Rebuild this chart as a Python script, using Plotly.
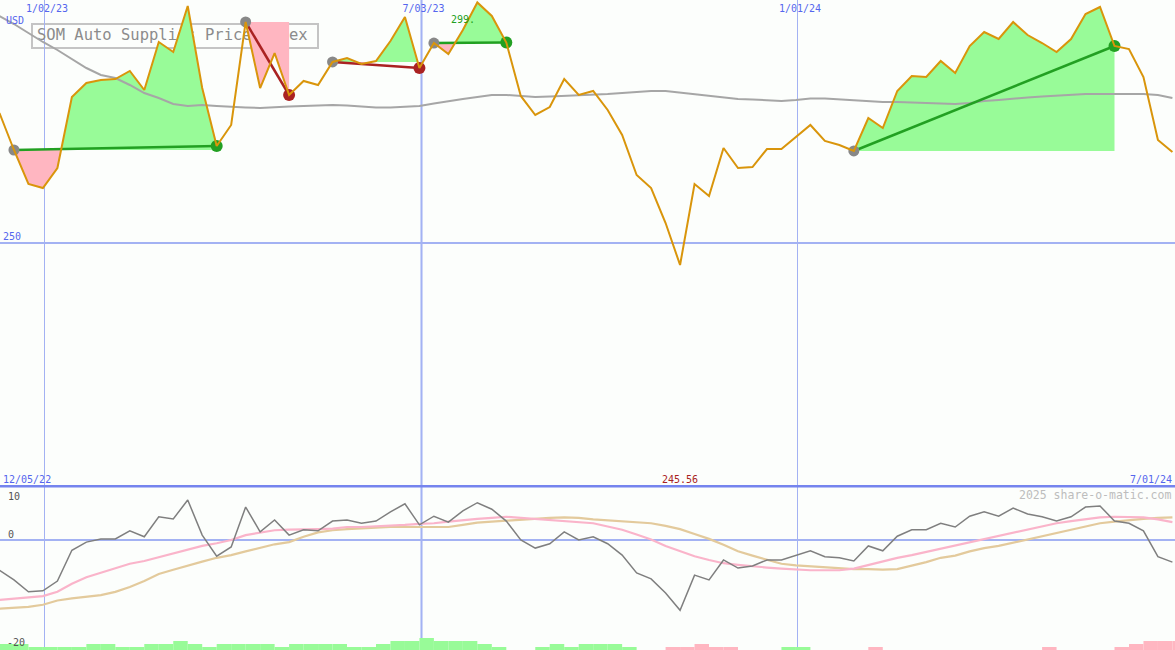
import pandas as pd
import plotly.graph_objects as go

# ---------------- data ----------------
dates = pd.date_range("2022-12-11", periods=82, freq="7D")

price = [276.26, 268.79, 261.92, 261.11, 265.15, 279.49, 282.32, 282.93, 283.13, 284.75,
         280.91, 290.61, 288.59, 297.88, 281.31, 269.60, 273.84, 294.65, 281.31, 288.38,
         279.90, 282.73, 281.92, 286.57, 287.37, 286.16, 286.77, 290.81, 295.66, 285.35,
         290.40, 288.18, 293.03, 298.60, 295.86, 290.50, 279.70, 275.86, 277.47, 283.13,
         279.90, 280.71, 276.87, 271.82, 263.74, 261.11, 254.04, 245.56, 261.92, 259.49,
         269.19, 265.15, 265.35, 268.99, 268.99, 271.41, 273.84, 270.61, 269.80, 268.59,
         275.25, 273.23, 280.71, 283.74, 283.54, 286.77, 284.34, 289.80, 292.63, 291.21,
         294.65, 292.02, 290.40, 288.59, 291.21, 296.26, 297.68, 289.80, 289.19, 283.54,
         270.81, 268.38]

moving_avg = [295.86, 294.24, 292.42, 290.61, 288.99, 287.17, 285.35, 283.94, 283.33, 281.92,
              280.30, 279.29, 278.08, 277.68, 277.88, 277.68, 277.47, 277.37, 277.27, 277.47,
              277.58, 277.68, 277.78, 277.88, 277.78, 277.58, 277.37, 277.37, 277.47, 277.68,
              278.18, 278.69, 279.09, 279.49, 279.90, 279.90, 279.70, 279.49, 279.60, 279.70,
              279.90, 279.90, 280.10, 280.30, 280.51, 280.71, 280.71, 280.40, 280.10, 279.70,
              279.39, 279.09, 278.99, 278.79, 278.69, 278.89, 279.19, 279.19, 278.99, 278.79,
              278.59, 278.48, 278.48, 278.38, 278.28, 278.18, 278.08, 278.28, 278.69, 278.89,
              279.19, 279.39, 279.60, 279.80, 279.90, 280.10, 280.10, 280.10, 280.10, 280.10,
              279.90, 279.29]

oscillator = [-5.6, -7.4, -9.6, -9.4, -7.6, -1.9, -0.4, 0.2, 0.2, 1.7,
              0.6, 4.3, 3.9, 7.4, 0.9, -3.0, -1.3, 6.1, 1.5, 3.7,
              0.9, 1.9, 1.7, 3.5, 3.7, 3.1, 3.5, 5.2, 6.7, 2.8,
              4.4, 3.3, 5.4, 6.9, 5.7, 3.5, 0.0, -1.5, -0.7, 1.5,
              0.0, 0.6, -0.7, -2.8, -6.1, -7.2, -9.8, -13.0, -6.5, -7.4,
              -3.7, -5.2, -4.8, -3.7, -3.7, -2.8, -2.0, -3.1, -3.3, -3.9,
              -1.1, -2.0, 0.7, 1.9, 1.9, 3.1, 2.4, 4.4, 5.2, 4.4,
              5.9, 4.8, 4.3, 3.5, 4.3, 6.1, 6.3, 3.5, 3.1, 1.7,
              -3.1, -4.1]

signal_fast = [-11.1, -10.9, -10.7, -10.4, -9.6, -8.1, -6.9, -6.1, -5.2, -4.4,
               -3.9, -3.2, -2.4, -1.7, -1.1, -0.6, 0.0, 0.9, 1.4, 1.8,
               1.9, 1.9, 2.0, 2.1, 2.4, 2.4, 2.5, 2.6, 2.8, 3.0,
               3.1, 3.4, 3.7, 3.9, 4.1, 4.3, 4.1, 3.9, 3.7, 3.5,
               3.3, 3.1, 2.5, 1.9, 1.0, 0.1, -1.1, -2.1, -3.0, -3.7,
               -4.3, -4.6, -4.9, -5.1, -5.3, -5.5, -5.6, -5.6, -5.6, -5.3,
               -4.6, -4.0, -3.3, -2.8, -2.2, -1.7, -1.0, -0.5, 0.2, 0.8,
               1.4, 1.9, 2.6, 3.1, 3.5, 3.9, 4.2, 4.3, 4.3, 4.2,
               3.8, 3.3]

signal_slow = [-12.7, -12.6, -12.4, -12.0, -11.2, -10.8, -10.5, -10.2, -9.6, -8.7,
               -7.6, -6.3, -5.5, -4.7, -4.0, -3.3, -2.8, -2.1, -1.4, -0.8,
               -0.4, 0.6, 1.4, 1.8, 2.0, 2.2, 2.3, 2.4, 2.4, 2.5,
               2.4, 2.4, 2.8, 3.2, 3.4, 3.6, 3.8, 4.0, 4.1, 4.2,
               4.1, 3.8, 3.6, 3.4, 3.3, 3.1, 2.6, 2.0, 1.1, 0.2,
               -0.9, -2.1, -2.9, -3.7, -4.4, -4.7, -4.9, -5.1, -5.3, -5.4,
               -5.4, -5.5, -5.4, -4.8, -4.1, -3.3, -2.9, -2.1, -1.5, -1.1,
               -0.5, 0.2, 0.7, 1.4, 1.9, 2.5, 3.1, 3.4, 3.7, 3.9,
               4.1, 4.2]

histogram = [2, 2, 1, 1, 1, 1, 2, 2, 1, 1,
             2, 2, 3, 2, 1, 2, 2, 2, 2, 1,
             2, 2, 2, 2, 1, 1, 2, 3, 3, 4,
             3, 3, 3, 2, 1, 0, 0, 1, 2, 1,
             2, 2, 2, 1, 0, 0, -1, -1, -2, -1,
             -1, 0, 0, 0, 1, 1, 0, 0, 0, 0,
             -1, 0, 0, 0, 0, 0, 0, 0, 0, 0,
             0, 0, -1, 0, 0, 0, 0, -1, -2, -3,
             -3, -3]

seg_start = [1, 17, 23, 30, 59]
seg_end = [15, 20, 29, 35, 77]

tick_dates = ["2023-01-02", "2023-07-03", "2024-01-01"]
tick_text = ["1/02/23", "7/03/23", "1/01/24"]
price_ticks = [250]
osc_labels = ["10", "0", "-20"]
title = "SOM Auto Supplies Price Index"
unit_label = "USD"
range_start_label = "12/05/22"
range_end_label = "7/01/24"
watermark = "2025 share-o-matic.com"

# ---------------- layout constants ----------------
W, H = 1175, 650
MAIN_PX = 487
X0 = pd.Timestamp("2022-12-11 06:00")
X1 = pd.Timestamp("2024-07-01 06:00")
Y_MAIN = [200.71, 299.09]
Y_OSC = [-20.37, 9.81]
MONO = "DejaVu Sans Mono"
BG = "#FCFEFC"
BLUE_TXT = "#5566EE"
GRID = "#A3B2F3"
ORANGE = "#D9950B"
GREEN_F = "#98FB98"
PINK_F = "#FFB6C1"
GREEN_L = "#22A022"
RED_L = "#AA2222"


def px_to_date(px):
    return X0 + (X1 - X0) * (px / W)


def px_to_price(py):
    return Y_MAIN[1] - (Y_MAIN[1] - Y_MAIN[0]) * py / MAIN_PX


def fill_polys(i0, i1):
    level = price[i0]
    t = [dates[i].value for i in range(i0, i1 + 1)]
    p = price[i0:i1 + 1]
    pt, pp = [t[0]], [p[0]]
    for j in range(1, len(t)):
        a, b = p[j - 1] - level, p[j] - level
        if a * b < 0:
            f = a / (a - b)
            pt.append(int(round(t[j - 1] + f * (t[j] - t[j - 1]))))
            pp.append(level)
        pt.append(t[j])
        pp.append(p[j])
    xs = list(pd.to_datetime(pt + [pt[-1], pt[0]]))
    up = [max(v, level) for v in pp] + [level, level]
    dn = [min(v, level) for v in pp] + [level, level]
    return xs, up, dn


fig = go.Figure()

# title text drawn first so the fills cover it
fig.add_trace(go.Scatter(x=[px_to_date(37)], y=[px_to_price(36)], mode="text",
                         text=[title], textposition="middle right",
                         textfont=dict(family=MONO, size=15.5, color="#8C8C8C"),
                         hoverinfo="skip", xaxis="x", yaxis="y"))

# histogram at the bottom of the oscillator panel
fig.add_trace(go.Bar(x=[d + pd.Timedelta(hours=84) for d in dates],
                     y=[abs(v) for v in histogram],
                     width=7 * 86400000,
                     marker=dict(color=[GREEN_F if v >= 0 else PINK_F for v in histogram],
                                 line=dict(width=0)),
                     hoverinfo="skip", xaxis="x", yaxis="y3"))

# trend fills
for s, e in zip(seg_start, seg_end):
    xs, up, dn = fill_polys(s, e)
    fig.add_trace(go.Scatter(x=xs, y=up, mode="lines", fill="toself", fillcolor=GREEN_F,
                             line=dict(width=0, color=GREEN_F), hoverinfo="skip",
                             xaxis="x", yaxis="y"))
    fig.add_trace(go.Scatter(x=xs, y=dn, mode="lines", fill="toself", fillcolor=PINK_F,
                             line=dict(width=0, color=PINK_F), hoverinfo="skip",
                             xaxis="x", yaxis="y"))

# moving average
fig.add_trace(go.Scatter(x=dates, y=moving_avg, mode="lines",
                         line=dict(color="#A6A6A6", width=2), hoverinfo="skip",
                         xaxis="x", yaxis="y"))

# trend lines
for s, e in zip(seg_start, seg_end):
    col = GREEN_L if price[e] >= price[s] else RED_L
    fig.add_trace(go.Scatter(x=[dates[s], dates[e]], y=[price[s], price[e]], mode="lines",
                             line=dict(color=col, width=2.5), hoverinfo="skip",
                             xaxis="x", yaxis="y"))

# dots
fig.add_trace(go.Scatter(x=[dates[s] for s in seg_start], y=[price[s] for s in seg_start],
                         mode="markers", marker=dict(size=11, color="#888888"),
                         hoverinfo="skip", xaxis="x", yaxis="y"))
fig.add_trace(go.Scatter(x=[dates[e] for e in seg_end], y=[price[e] for e in seg_end],
                         mode="markers",
                         marker=dict(size=12, color=[GREEN_L if price[e] >= price[s] else RED_L
                                                     for s, e in zip(seg_start, seg_end)]),
                         hoverinfo="skip", xaxis="x", yaxis="y"))

# price line
fig.add_trace(go.Scatter(x=dates, y=price, mode="lines",
                         line=dict(color=ORANGE, width=2), hoverinfo="skip",
                         xaxis="x", yaxis="y"))

# oscillator panel lines
fig.add_trace(go.Scatter(x=dates, y=signal_slow, mode="lines",
                         line=dict(color="#E3CA9C", width=2.2), hoverinfo="skip",
                         xaxis="x", yaxis="y2"))
fig.add_trace(go.Scatter(x=dates, y=signal_fast, mode="lines",
                         line=dict(color="#FAB4CA", width=2.2), hoverinfo="skip",
                         xaxis="x", yaxis="y2"))
fig.add_trace(go.Scatter(x=dates, y=oscillator, mode="lines",
                         line=dict(color="#7F7F7F", width=1.5), hoverinfo="skip",
                         xaxis="x", yaxis="y2"))


def note(text, px, py, xanchor, color, size=10):
    return dict(text=text, x=px / W, y=1 - py / H, xref="paper", yref="paper",
                xanchor=xanchor, yanchor="middle", showarrow=False,
                font=dict(family=MONO, size=size, color=color))


imax = max(range(len(price)), key=lambda i: price[i])
imin = min(range(len(price)), key=lambda i: price[i])

annotations = [
    note(unit_label, 4, 20, "left", BLUE_TXT),
    note(range_start_label, 1, 479, "left", BLUE_TXT),
    note(range_end_label, 1174, 479, "right", BLUE_TXT),
    note(osc_labels[0], 6, 496, "left", "#555555"),
    note(osc_labels[1], 6, 534, "left", "#555555"),
    note(osc_labels[2], 5, 642, "left", "#555555"),
    note(watermark, 1173, 495, "right", "#BDBDBD", size=11.5),
    dict(text=f"{price[imin]:.2f}", x=dates[imin], y=1 - 479 / H, xref="x", yref="paper",
         xanchor="center", yanchor="middle", showarrow=False,
         font=dict(family=MONO, size=10, color=RED_L)),
    dict(text=f"{int(price[imax]) + 1}.", x=dates[imax], y=price[imax], xref="x", yref="y",
         xanchor="right", yanchor="middle", yshift=-17, showarrow=False,
         font=dict(family=MONO, size=10, color=GREEN_L)),
]

shapes = [
    dict(type="rect", xref="paper", yref="paper", x0=32 / W, x1=318 / W,
         y0=1 - 48 / H, y1=1 - 24 / H, line=dict(color="#C4C4C4", width=2),
         fillcolor="rgba(0,0,0,0)", layer="below"),
    dict(type="line", xref="x", yref="paper", x0=tick_dates[1], x1=tick_dates[1],
         y0=0, y1=1, line=dict(color="#9DAEF3", width=2), layer="below"),
    dict(type="line", xref="paper", yref="paper", x0=0, x1=1,
         y0=1 - 486.3 / H, y1=1 - 486.3 / H, line=dict(color="#7584EE", width=2.5)),
]

osc_frac = (H - MAIN_PX) / H
fig.update_layout(
    width=W, height=H, margin=dict(l=0, r=0, t=0, b=0),
    paper_bgcolor=BG, plot_bgcolor=BG, showlegend=False,
    font=dict(family=MONO, size=10),
    xaxis=dict(type="date", range=[X0, X1], domain=[0, 1], anchor="y", side="top",
               tickvals=tick_dates, ticktext=tick_text, ticklabelposition="inside",
               ticklabelstandoff=2, ticklabelshift=2,
               tickfont=dict(family=MONO, size=10, color=BLUE_TXT), ticks="",
               showgrid=True, gridcolor=GRID, gridwidth=1, zeroline=False, showline=False),
    yaxis=dict(domain=[osc_frac, 1], range=Y_MAIN, anchor="x", tickvals=price_ticks,
               ticktext=[str(v) for v in price_ticks], ticklabelposition="inside top",
               tickfont=dict(family=MONO, size=10, color=BLUE_TXT), ticks="",
               showgrid=True, gridcolor=GRID, gridwidth=2, zeroline=False, showline=False),
    yaxis2=dict(domain=[0, osc_frac], range=Y_OSC, anchor="x", tickvals=[0],
                showticklabels=False, ticks="", showgrid=True, gridcolor=GRID, gridwidth=2,
                zeroline=False, showline=False),
    yaxis3=dict(overlaying="y2", range=[0, (H - MAIN_PX) / 3], anchor="x", visible=False,
                showgrid=False, zeroline=False),
    annotations=annotations, shapes=shapes,
)

fig.write_html("out.html", config={"displayModeBar": False},
               post_script="document.body.style.margin='0';document.body.style.overflow='hidden';")
